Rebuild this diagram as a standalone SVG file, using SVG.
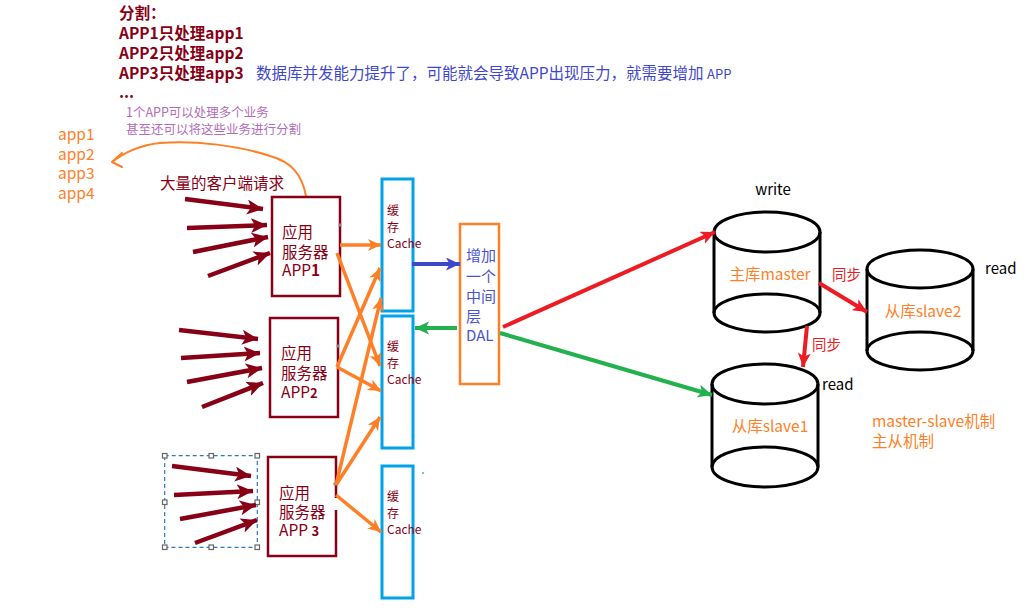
<svg xmlns="http://www.w3.org/2000/svg" width="1036" height="611" viewBox="0 0 1036 611">
<defs>
<style>
text{font-family:"Noto Sans CJK SC","Noto Sans",sans-serif}
.title{font-size:15.5px;font-weight:bold;fill:#880015}
.blue{font-size:15.5px;fill:#3f48cc}
.purple{font-size:12.5px;fill:#b36cbb}
.orangeT{font-size:15.5px;fill:#ff7f27}
.mar{font-size:15.5px;fill:#880015}
.cache{font-size:12px;fill:#880015}
.dal{font-size:15px;fill:#4a52d6}
.blk{font-size:15px;fill:#000}
.redT{font-size:14.5px;fill:#ed1c24}
.box{fill:none;stroke:#880015;stroke-width:2.5}
.cbox{fill:none;stroke:#00a2e8;stroke-width:3}
.cyl{fill:none;stroke:#000;stroke-width:3}
.am{stroke:#880015;stroke-width:4.5;fill:none;marker-end:url(#hm)}
.ao{stroke:#ff7f27;stroke-width:3.5;fill:none;marker-end:url(#ho)}
.ar{stroke:#ed1c24;stroke-width:4;fill:none;marker-end:url(#hr)}
.ag{stroke:#22b14c;stroke-width:4;fill:none;marker-end:url(#hg)}
.ab{stroke:#3f48cc;stroke-width:4;fill:none;marker-end:url(#hb)}
.hdl{fill:#fff;stroke:#666;stroke-width:1.2}
</style>
<marker id="hm" markerUnits="userSpaceOnUse" markerWidth="18" markerHeight="16" refX="16" refY="7.5" orient="auto"><path d="M0,0 L16,7.5 L0,15 L4,7.5 z" fill="#880015"/></marker>
<marker id="ho" markerUnits="userSpaceOnUse" markerWidth="16" markerHeight="14" refX="13" refY="6" orient="auto"><path d="M0,0 L13,6 L0,12 L3.5,6 z" fill="#ff7f27"/></marker>
<marker id="hr" markerUnits="userSpaceOnUse" markerWidth="16" markerHeight="14" refX="14" refY="6.5" orient="auto"><path d="M0,0 L14,6.5 L0,13 L3.5,6.5 z" fill="#ed1c24"/></marker>
<marker id="hg" markerUnits="userSpaceOnUse" markerWidth="16" markerHeight="14" refX="14" refY="6.5" orient="auto"><path d="M0,0 L14,6.5 L0,13 L3.5,6.5 z" fill="#22b14c"/></marker>
<marker id="hb" markerUnits="userSpaceOnUse" markerWidth="16" markerHeight="14" refX="14" refY="6.5" orient="auto"><path d="M0,0 L14,6.5 L0,13 L3.5,6.5 z" fill="#3f48cc"/></marker>
</defs>
<rect width="1036" height="611" fill="#fff"/>

<g id="notes">
<text class="title" x="119" y="19">分割：</text>
<text class="title" x="119" y="39">APP1只处理app1</text>
<text class="title" x="119" y="59">APP2只处理app2</text>
<text class="title" x="119" y="79">APP3只处理app3</text>
<text class="title" x="119" y="98">...</text>
<text class="blue" x="256" y="79">数据库并发能力提升了，可能就会导致APP出现压力，就需要增加 <tspan font-size="13">APP</tspan></text>
<text class="purple" x="126" y="117">1个APP可以处理多个业务</text>
<text class="purple" x="126" y="134">甚至还可以将这些业务进行分割</text>
<text class="orangeT" x="58" y="140">app1</text>
<text class="orangeT" x="58" y="160">app2</text>
<text class="orangeT" x="58" y="179">app3</text>
<text class="orangeT" x="58" y="199">app4</text>
<text class="mar" x="160" y="189">大量的客户端请求</text>
<path d="M306,196 C302,175 292,162 270,156 C240,146 195,140 160,143 C140,145 125,152 112,162" fill="none" stroke="#ff7f27" stroke-width="2"/>
<polyline points="122,153 112,162 122,167" fill="none" stroke="#ff7f27" stroke-width="2" stroke-linecap="round" stroke-linejoin="round"/>
</g>

<g id="app1">
<rect class="box" x="272" y="197" width="68" height="99"/>
<text class="mar" x="282" y="238">应用</text>
<text class="mar" x="282" y="258">服务器</text>
<text class="mar" x="282" y="276">APP<tspan font-weight="bold">1</tspan></text>
<rect x="338.5" y="223.5" width="3" height="3" fill="#888"/>
</g>
<g id="app2">
<rect class="box" x="270" y="318" width="68" height="99"/>
<text class="mar" x="281" y="359">应用</text>
<text class="mar" x="281" y="379">服务器</text>
<text class="mar" x="281" y="398">APP<tspan font-size="13" font-weight="bold">2</tspan></text>
<rect x="336.5" y="344.5" width="3" height="3" fill="#888"/>
</g>
<g id="app3">
<path class="box" d="M336,498 V457 H268 V556 H336 V510"/>
<text class="mar" x="279" y="499">应用</text>
<text class="mar" x="279" y="518">服务器</text>
<text class="mar" x="279" y="536">APP <tspan font-size="13" font-weight="bold">3</tspan></text>
<rect x="333.5" y="482.5" width="3" height="3" fill="#888"/>
</g>
<g id="selection">
<rect x="164.7" y="455.7" width="92.6" height="91.6" fill="none" stroke="#2a78c8" stroke-width="1.2" stroke-dasharray="4,3"/>
<rect class="hdl" x="162.5" y="453.5" width="4.5" height="4.5"/>
<rect class="hdl" x="209" y="453.5" width="4.5" height="4.5"/>
<rect class="hdl" x="255" y="453.5" width="4.5" height="4.5"/>
<rect class="hdl" x="162.5" y="500" width="4.5" height="4.5"/>
<rect class="hdl" x="255" y="500" width="4.5" height="4.5"/>
<rect class="hdl" x="162.5" y="545" width="4.5" height="4.5"/>
<rect class="hdl" x="209" y="545" width="4.5" height="4.5"/>
<rect class="hdl" x="255" y="545" width="4.5" height="4.5"/>
</g>

<g id="cache1">
<rect class="cbox" x="382" y="179" width="31" height="132"/>
<text class="cache" x="387" y="215">缓</text>
<text class="cache" x="387" y="232">存</text>
<text class="cache" x="387" y="248">Cache</text>
</g>
<g id="cache2">
<rect class="cbox" x="382" y="316" width="31" height="132"/>
<text class="cache" x="387" y="351">缓</text>
<text class="cache" x="387" y="368">存</text>
<text class="cache" x="387" y="384">Cache</text>
</g>
<g id="cache3">
<rect class="cbox" x="382" y="466" width="31" height="132"/>
<text class="cache" x="387" y="501">缓</text>
<text class="cache" x="387" y="518">存</text>
<text class="cache" x="387" y="534">Cache</text>
</g>
<rect x="422" y="472" width="2" height="2" fill="#22b14c" opacity="0.6"/>

<g id="dal">
<rect x="460" y="224" width="39" height="160" fill="none" stroke="#ff7f27" stroke-width="2.5"/>
<text class="dal" x="466" y="261">增加</text>
<text class="dal" x="466" y="282">一个</text>
<text class="dal" x="466" y="302">中间</text>
<text class="dal" x="466" y="322">层</text>
<text class="dal" x="466" y="341">DAL</text>
</g>

<g id="master">
<ellipse class="cyl" cx="767" cy="313" rx="53" ry="19"/>
<line class="cyl" x1="714" y1="232" x2="714" y2="313"/>
<line class="cyl" x1="820" y1="232" x2="820" y2="313"/>
<ellipse class="cyl" cx="767" cy="232" rx="53" ry="20"/>
<text class="blk" x="773" y="195" text-anchor="middle">write</text>
<text class="orangeT" x="770" y="280" text-anchor="middle">主库master</text>
</g>
<g id="slave2">
<ellipse class="cyl" cx="920" cy="351" rx="53" ry="19"/>
<line class="cyl" x1="867" y1="269" x2="867" y2="351"/>
<line class="cyl" x1="973" y1="269" x2="973" y2="351"/>
<ellipse class="cyl" cx="920" cy="269" rx="53" ry="19"/>
<text class="blk" x="985" y="274">read</text>
<text class="orangeT" x="923" y="317" text-anchor="middle">从库slave2</text>
</g>
<g id="slave1">
<ellipse class="cyl" cx="765" cy="467" rx="53" ry="20"/>
<line class="cyl" x1="712" y1="384" x2="712" y2="467"/>
<line class="cyl" x1="818" y1="384" x2="818" y2="467"/>
<ellipse class="cyl" cx="765" cy="384" rx="53" ry="20"/>
<text class="blk" x="822" y="390">read</text>
<text class="orangeT" x="770" y="432" text-anchor="middle">从库slave1</text>
</g>
<g id="legend">
<text class="orangeT" x="872" y="427">master-slave机制</text>
<text class="orangeT" x="872" y="447">主从机制</text>
</g>

<g id="connectors">
<line class="am" x1="185" y1="199" x2="263" y2="209"/>
<line class="am" x1="187" y1="228" x2="267" y2="225"/>
<line class="am" x1="193" y1="252" x2="268" y2="237"/>
<line class="am" x1="208" y1="276" x2="270" y2="253"/>
<line class="am" x1="179" y1="330" x2="258" y2="339"/>
<line class="am" x1="181" y1="358" x2="260" y2="353"/>
<line class="am" x1="187" y1="382" x2="262" y2="368"/>
<line class="am" x1="202" y1="407" x2="263" y2="383"/>
<line class="am" x1="172" y1="466" x2="251" y2="476"/>
<line class="am" x1="174" y1="495" x2="253" y2="491"/>
<line class="am" x1="180" y1="519" x2="256" y2="505"/>
<line class="am" x1="195" y1="543" x2="257" y2="520"/>

<line class="ao" x1="340" y1="245" x2="381" y2="245"/>
<line class="ao" x1="337" y1="253" x2="380" y2="366"/>
<line class="ao" x1="337" y1="367" x2="380" y2="268"/>
<line class="ao" x1="337" y1="367" x2="381" y2="391"/>
<line class="ao" x1="336" y1="485" x2="381" y2="298"/>
<line class="ao" x1="336" y1="485" x2="380" y2="417"/>
<line class="ao" x1="336" y1="495" x2="381" y2="532"/>

<line class="ab" x1="412" y1="264" x2="460" y2="264"/>
<line class="ag" x1="457" y1="328" x2="415" y2="328"/>
<line class="ar" x1="503" y1="327" x2="715" y2="232"/>
<line class="ag" x1="500" y1="333" x2="712" y2="395"/>
<line class="ar" x1="819" y1="283" x2="867" y2="312"/>
<line class="ar" x1="807" y1="326" x2="803" y2="367"/>
<text class="redT" x="832" y="280">同步</text>
<text class="redT" x="812" y="350">同步</text>
</g>
</svg>
